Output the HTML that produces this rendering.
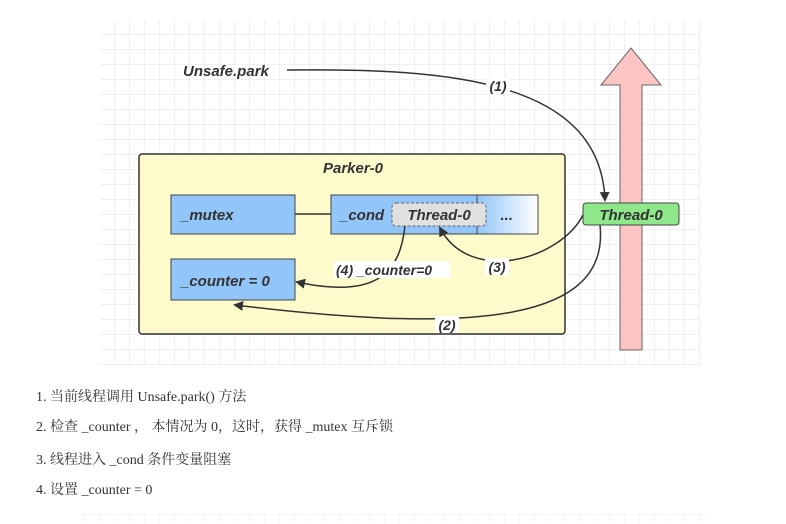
<!DOCTYPE html>
<html><head><meta charset="utf-8"><style>
body{margin:0;width:786px;height:524px;background:#fff;overflow:hidden;font-family:"Liberation Serif","Noto Serif CJK SC",serif;}
.li{position:absolute;left:36px;font-size:14px;color:#333;}
</style></head><body>
<svg width="786" height="524" style="position:absolute;left:0;top:0" font-family="Liberation Sans, sans-serif">
<defs>
<pattern id="g" width="15" height="15" patternUnits="userSpaceOnUse" x="100" y="20">
<path d="M15 0V15M0 15H15" stroke="#e2e2e2" stroke-width="1" fill="none"/></pattern>
<linearGradient id="gr" x1="0" x2="1"><stop offset="0" stop-color="#92c5f8"/><stop offset="1" stop-color="#fff"/></linearGradient>
<marker id="a" markerWidth="10" markerHeight="10" refX="8" refY="5" orient="auto" markerUnits="userSpaceOnUse"><path d="M0 0L10 5L0 10z" fill="#333"/></marker>
</defs>
<rect x="100" y="20" width="600" height="345" fill="url(#g)"/>
<rect x="80" y="512" width="630" height="10" fill="url(#g)" opacity="0.6"/>
<rect x="139" y="154" width="426" height="180" rx="3" fill="#fdfbcc" stroke="#333" stroke-width="1.5"/>
<text x="353" y="173" font-size="15" font-weight="bold" font-style="italic" fill="#333" text-anchor="middle">Parker-0</text>
<line x1="295" y1="214" x2="331" y2="214" stroke="#333" stroke-width="1.5"/>
<rect x="171" y="195" width="124" height="39" fill="#92c5f8" stroke="#444"/>
<text x="181" y="220" font-size="15" font-weight="bold" font-style="italic" fill="#333">_mutex</text>
<rect x="331" y="195" width="207" height="39" fill="#92c5f8" stroke="#444"/>
<rect x="477" y="195" width="61" height="39" fill="url(#gr)" stroke="#444"/>
<text x="340" y="220" font-size="15" font-weight="bold" font-style="italic" fill="#333">_cond</text>
<rect x="392" y="203" width="94" height="23" rx="4" fill="#e0e0e0" stroke="#666" stroke-dasharray="3,2"/>
<text x="439" y="220" font-size="15" font-weight="bold" font-style="italic" fill="#333" text-anchor="middle">Thread-0</text>
<text x="500" y="220" font-size="15" font-weight="bold" fill="#333">...</text>
<rect x="171" y="259" width="124" height="41" fill="#92c5f8" stroke="#444"/>
<text x="181" y="286" font-size="15" font-weight="bold" font-style="italic" fill="#333">_counter = 0</text>
<path d="M620 350V85H601L631 48L661 85H642V350Z" fill="#fcc5c3" stroke="#666"/>
<rect x="583" y="203" width="96" height="22" rx="3" fill="#8ee88a" stroke="#444"/>
<text x="631" y="220" font-size="15" font-weight="bold" font-style="italic" fill="#333" text-anchor="middle">Thread-0</text>
<text x="183" y="76" font-size="15" font-weight="bold" font-style="italic" fill="#333">Unsafe.park</text>
<path d="M287 70C450 68 600 80 605 200" fill="none" stroke="#333" stroke-width="1.5" marker-end="url(#a)"/>
<path d="M583 215C560 260 470 285 440 228" fill="none" stroke="#333" stroke-width="1.5" marker-end="url(#a)"/>
<path d="M405 226C400 270 380 300 297 282" fill="none" stroke="#333" stroke-width="1.5" marker-end="url(#a)"/>
<path d="M600 225C610 320 480 335 235 305" fill="none" stroke="#333" stroke-width="1.5" marker-end="url(#a)"/>
<rect x="486" y="77" width="24" height="17" fill="#fff"/>
<text x="498" y="91" font-size="14" font-weight="bold" font-style="italic" fill="#333" text-anchor="middle">(1)</text>
<rect x="485" y="258" width="24" height="17" fill="#fff"/>
<text x="497" y="272" font-size="14" font-weight="bold" font-style="italic" fill="#333" text-anchor="middle">(3)</text>
<rect x="334" y="261" width="116" height="17" fill="#fff"/>
<text x="336" y="275" font-size="14" font-weight="bold" font-style="italic" fill="#333">(4) _counter=0</text>
<rect x="435" y="316" width="24" height="17" fill="#fff"/>
<text x="447" y="330" font-size="14" font-weight="bold" font-style="italic" fill="#333" text-anchor="middle">(2)</text>
</svg>
<div class="li" style="top:386px">1. 当前线程调用 Unsafe.park() 方法</div>
<div class="li" style="top:416px">2. 检查 _counter ， 本情况为 0，这时，获得 _mutex 互斥锁</div>
<div class="li" style="top:449px">3. 线程进入 _cond 条件变量阻塞</div>
<div class="li" style="top:479px">4. 设置 _counter = 0</div>
</body></html>
